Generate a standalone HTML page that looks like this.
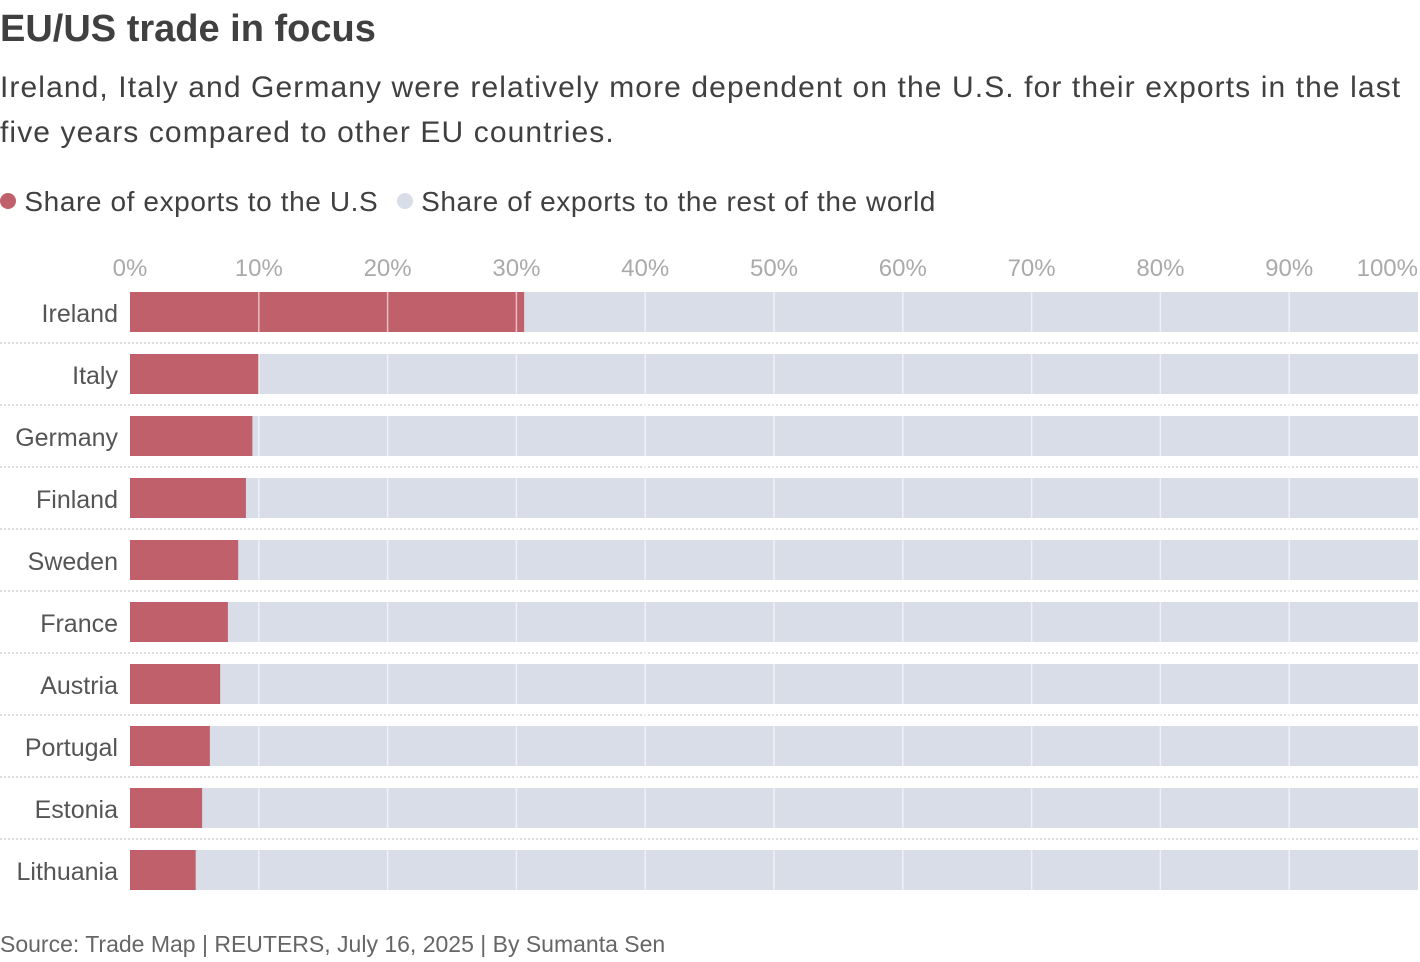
<!DOCTYPE html>
<html><head><meta charset="utf-8"><style>
body{margin:0;width:1420px;height:962px;background:#fff;font-family:"Liberation Sans",sans-serif;overflow:hidden;position:relative}
.t{position:absolute;left:0;white-space:nowrap}
</style></head><body>
<div class="t" style="top:8px;font-size:38px;font-weight:bold;color:#404040;letter-spacing:0px">EU/US trade in focus</div>
<div class="t" style="top:65px;font-size:30px;color:#404040;line-height:45px;letter-spacing:1.1px">Ireland, Italy and Germany were relatively more dependent on the U.S. for their exports in the last<br>five years compared to other EU countries.</div>
<div class="t" style="top:186px;font-size:28px;color:#404040;letter-spacing:0.6px">
<span><span style="display:inline-block;width:16px;height:16px;border-radius:50%;background:#c0606a;vertical-align:2px"></span> Share of exports to the U.S</span>
<span style="margin-left:10px"><span style="display:inline-block;width:16px;height:16px;border-radius:50%;background:#d8dde8;vertical-align:2px"></span> Share of exports to the rest of the world</span></div>
<svg id="chart" width="1420" height="962" style="position:absolute;left:0;top:0"></svg>
<div class="t" style="top:931px;font-size:23px;color:#666">Source: Trade Map | REUTERS, July 16, 2025 | By Sumanta Sen</div>
<script>
const countries=["Ireland","Italy","Germany","Finland","Sweden","France","Austria","Portugal","Estonia","Lithuania"];
const usShare=[30.6,10.0,9.5,9.0,8.4,7.6,7.0,6.2,5.6,5.1];
const ticks=[0,10,20,30,40,50,60,70,80,90,100];
const svg=document.getElementById('chart');const NS='http://www.w3.org/2000/svg';
const x=v=>130+v*12.88;const y=i=>292+i*62;
function mk(t,a){const e=document.createElementNS(NS,t);for(const k in a)e.setAttribute(k,a[k]);svg.appendChild(e);return e;}
countries.forEach((c,i)=>{
 const bg=mk('rect',{x:x(0),y:y(i),width:x(100)-x(0),height:40,fill:'#d8dde8'});
 
 
 const r=mk('rect',{x:x(0),y:y(i),width:x(usShare[i])-x(0),height:40,fill:'#c0606a'});
 
 
 const l=mk('text',{x:118,y:y(i)+30,'text-anchor':'end','font-size':25,fill:'#555','font-family':'Liberation Sans, sans-serif'});
 l.textContent=c;
 
 
 if(i<countries.length-1){const s=mk('line',{x1:0,x2:1420,y1:y(i)+51,y2:y(i)+51,stroke:'#bbb','stroke-dasharray':'2,2'});
 
 }
});
ticks.forEach(t=>{
 if(t>0&&t<100){const g=mk('line',{x1:x(t),x2:x(t),y1:292,y2:890,stroke:'#fff','stroke-opacity':0.6,'stroke-width':1.5});
 
 }
 const tx=mk('text',{x:t===100?1418:x(t),y:276,'text-anchor':t===100?'end':'middle','font-size':24,fill:'#aaa','font-family':'Liberation Sans, sans-serif'});
 tx.textContent=t+'%';
 
 
});
</script>
</body></html>
